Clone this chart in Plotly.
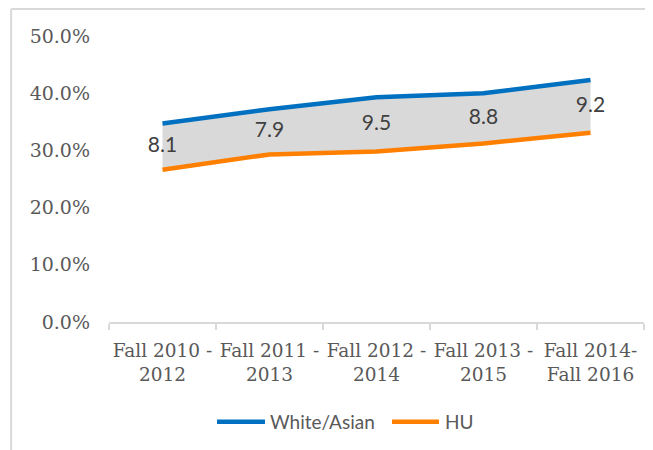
import plotly.graph_objects as go

categories = ["Fall 2010 -<br>2012", "Fall 2011 -<br>2013", "Fall 2012 -<br>2014",
              "Fall 2013 -<br>2015", "Fall 2014-<br>Fall 2016"]
white_asian = [0.347, 0.372, 0.393, 0.400, 0.423]
hu = [0.266, 0.293, 0.298, 0.312, 0.331]
gap_labels = ["8.1", "7.9", "9.5", "8.8", "9.2"]
series_names = ["White/Asian", "HU"]

BLUE = "#0070C0"
ORANGE = "#FF8000"
GREY = "#595959"
LIGHT = "#D9D9D9"

fig = go.Figure()
fig.add_trace(go.Scatter(x=categories, y=hu, mode="lines", name=series_names[1],
                         line=dict(color=ORANGE, width=4.5), showlegend=False,
                         hoverinfo="skip"))
fig.add_trace(go.Scatter(x=categories, y=white_asian, mode="lines", name=series_names[0],
                         line=dict(color=BLUE, width=4.5), fill="tonexty",
                         fillcolor=LIGHT, showlegend=False, hoverinfo="skip"))
mid = [(a + b) / 2 for a, b in zip(white_asian, hu)]
fig.add_trace(go.Scatter(x=categories, y=mid, mode="text", text=gap_labels,
                         textfont=dict(family="Lato", size=21, color="#404040"),
                         showlegend=False, hoverinfo="skip"))

# custom legend (Excel-style long line samples)
leg_y = -0.3486
legend_items = [
    (series_names[0], BLUE, 0.2019, 0.2916, 0.2972),
    (series_names[1], ORANGE, 0.529, 0.6168, 0.6243),
]
shapes = [
    dict(type="line", xref="paper", yref="paper", x0=-0.183, x1=1.1, y0=1.094, y1=1.094,
         line=dict(color=LIGHT, width=2)),
    dict(type="line", xref="paper", yref="paper", x0=-0.183, x1=-0.183, y0=1.094, y1=-0.5,
         line=dict(color=LIGHT, width=2)),
]
annotations = []
for name, col, lx0, lx1, tx in legend_items:
    shapes.append(dict(type="line", xref="paper", yref="paper", x0=lx0, x1=lx1,
                       y0=leg_y, y1=leg_y, line=dict(color=col, width=4.5)))
    annotations.append(dict(xref="paper", yref="paper", x=tx, y=leg_y, text=name,
                            showarrow=False, xanchor="left", yanchor="middle",
                            font=dict(family="Lato", size=19, color=GREY)))

fig.update_layout(
    width=645, height=442,
    margin=dict(l=101, r=9, t=28, b=128, autoexpand=False),
    paper_bgcolor="white", plot_bgcolor="white",
    showlegend=False,
    xaxis=dict(type="category", showgrid=False, showline=True, linecolor=LIGHT,
               linewidth=1.5, ticks="outside", tickson="boundaries", ticklen=6,
               tickcolor=LIGHT, tickwidth=1.5, tickangle=0, automargin=False,
               ticklabelstandoff=11,
               tickfont=dict(family="DejaVu Serif", size=18.5, color=GREY),
               range=[-0.5, 4.5]),
    yaxis=dict(range=[0, 0.5], tickvals=[0, 0.1, 0.2, 0.3, 0.4, 0.5], tickformat=".1%",
               showgrid=False, zeroline=False, showline=False, automargin=False,
               tickfont=dict(family="DejaVu Serif", size=19, color=GREY),
               ticklabelstandoff=18),
    shapes=shapes,
    annotations=annotations,
)

fig.write_html("out.html")
